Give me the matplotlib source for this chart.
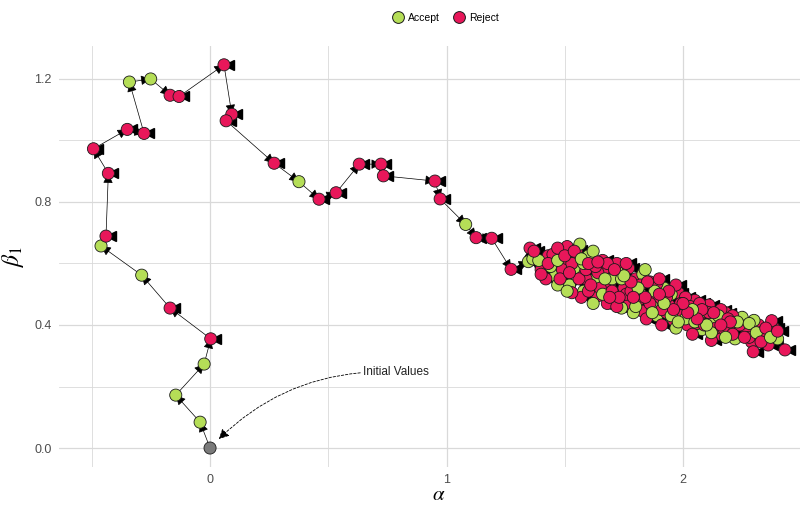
import matplotlib
matplotlib.use("Agg")
import matplotlib.pyplot as plt
from matplotlib.patches import FancyArrowPatch
from matplotlib.lines import Line2D
from matplotlib.transforms import ScaledTranslation
import numpy as np

plt.rcParams['font.family'] = ['Liberation Sans', 'DejaVu Sans']
plt.rcParams['mathtext.fontset'] = 'stix'

# ---- walk from the initial value towards the posterior mode ----
walk_alpha = [0.000, -0.042, -0.145, -0.025, 0.003, -0.169, -0.289, -0.461, -0.440, -0.430,
              -0.493, -0.350, -0.279, -0.341, -0.251, -0.169, -0.131, 0.059, 0.092, 0.068,
              0.271, 0.376, 0.461, 0.533, 0.631, 0.723, 0.733, 0.951, 0.973, 1.081,
              1.125, 1.191, 1.273, 1.346, 1.353]
walk_beta = [0.000, 0.084, 0.172, 0.273, 0.355, 0.455, 0.562, 0.657, 0.689, 0.893,
             0.973, 1.036, 1.023, 1.190, 1.200, 1.147, 1.143, 1.246, 1.085, 1.064,
             0.926, 0.866, 0.809, 0.830, 0.923, 0.923, 0.885, 0.868, 0.810, 0.727,
             0.684, 0.682, 0.581, 0.606, 0.650]
walk_status = ['I', 'A', 'A', 'A', 'R', 'R', 'A', 'A', 'R', 'R',
               'R', 'R', 'R', 'A', 'A', 'R', 'R', 'R', 'R', 'R',
               'R', 'A', 'R', 'R', 'R', 'R', 'R', 'R', 'R', 'A',
               'R', 'R', 'R', 'A', 'R']

# ---- draws in the high density region ----
cluster_alpha = [
    1.365, 1.40, 1.43, 1.46, 1.49, 1.50, 1.52, 1.55, 1.57, 1.58, 1.61, 1.63, 1.64, 1.67, 1.69, 1.70,
    1.73, 1.75, 1.77, 1.80, 1.82, 1.83, 1.86, 1.88, 1.89, 1.92, 1.94, 1.96, 1.98, 2.00, 2.02, 2.05,
    2.07, 2.08, 2.11, 2.13, 2.15, 2.18, 2.20, 2.22, 2.25, 2.27, 2.29, 2.32, 2.34, 2.36, 2.385, 2.40,
    2.431, 2.375,
    2.33, 2.30, 2.28, 2.24, 2.21, 2.19, 2.16, 2.14, 2.12, 2.09, 2.06, 2.04, 2.01, 1.99, 1.97, 1.95,
    1.93, 1.91, 1.89, 1.87, 1.845, 1.83, 1.81, 1.79, 1.77, 1.76, 1.74, 1.72, 1.70, 1.68, 1.66, 1.65,
    1.62, 1.60, 1.59, 1.57, 1.55, 1.54, 1.53, 1.51, 1.49, 1.47, 1.45, 1.44, 1.42, 1.39, 1.37,
    1.40, 1.43, 1.47, 1.48, 1.51, 1.53, 1.564, 1.56, 1.59, 1.60, 1.62, 1.64, 1.66, 1.68, 1.70, 1.72,
    1.74, 1.76, 1.78, 1.80, 1.82, 1.84, 1.86, 1.88, 1.90, 1.91, 1.93, 1.95, 1.97, 1.99, 2.01, 2.03,
    2.05, 2.07, 2.09, 2.11, 2.12, 2.15, 2.17, 2.19, 2.21, 2.23, 2.26, 2.28, 2.297, 2.31, 2.33, 2.35,
    2.37, 2.40,
    2.20, 2.18, 2.16, 2.13, 2.10, 2.08, 2.06, 2.04, 2.02, 2.00, 1.98, 1.96, 1.94, 1.92, 1.90, 1.87,
    1.85, 1.84, 1.81, 1.79, 1.78, 1.75, 1.73, 1.71, 1.69, 1.67, 1.63, 1.61, 1.58, 1.52,
    1.47, 1.50, 1.54, 1.57, 1.60, 1.64]
cluster_beta = [
    0.615, 0.580, 0.625, 0.560, 0.640, 0.600, 0.530, 0.620, 0.570, 0.510, 0.600, 0.550, 0.495, 0.585, 0.530, 0.470,
    0.570, 0.520, 0.465, 0.550, 0.500, 0.445, 0.540, 0.480, 0.430, 0.520, 0.465, 0.415, 0.505, 0.450, 0.400, 0.480,
    0.430, 0.385, 0.465, 0.410, 0.370, 0.440, 0.395, 0.355, 0.425, 0.385, 0.345, 0.400, 0.365, 0.335, 0.390, 0.355,
    0.319, 0.414,
    0.375, 0.415, 0.360, 0.400, 0.430, 0.375, 0.450, 0.390, 0.350, 0.445, 0.405, 0.370, 0.490, 0.430, 0.390, 0.500,
    0.440, 0.400, 0.535, 0.460, 0.420, 0.565, 0.480, 0.440, 0.585, 0.500, 0.455, 0.600, 0.550, 0.470, 0.610, 0.520,
    0.470, 0.625, 0.550, 0.490, 0.645, 0.585, 0.505, 0.655, 0.580, 0.530, 0.630, 0.590, 0.550, 0.610, 0.640,
    0.565, 0.600, 0.610, 0.550, 0.510, 0.600, 0.663, 0.550, 0.580, 0.510, 0.640, 0.570, 0.500, 0.600, 0.510, 0.460,
    0.550, 0.600, 0.510, 0.460, 0.530, 0.580, 0.470, 0.510, 0.550, 0.450, 0.490, 0.430, 0.530, 0.470, 0.420, 0.460,
    0.410, 0.470, 0.400, 0.440, 0.375, 0.430, 0.390, 0.420, 0.370, 0.410, 0.360, 0.405, 0.313, 0.375, 0.345, 0.390,
    0.360, 0.380,
    0.410, 0.360, 0.400, 0.440, 0.400, 0.450, 0.420, 0.450, 0.440, 0.470, 0.410, 0.450, 0.510, 0.470, 0.500, 0.440,
    0.540, 0.490, 0.520, 0.490, 0.540, 0.560, 0.490, 0.580, 0.490, 0.550, 0.590, 0.530, 0.600, 0.570,
    0.650, 0.625, 0.640, 0.615, 0.600, 0.605]
cluster_status = [
    'A', 'R', 'R', 'A', 'R', 'R', 'A', 'R', 'R', 'A', 'R', 'A', 'R', 'R', 'R', 'A',
    'A', 'R', 'R', 'R', 'A', 'R', 'R', 'R', 'A', 'A', 'R', 'R', 'R', 'A', 'R', 'R',
    'R', 'A', 'R', 'A', 'R', 'R', 'R', 'A', 'A', 'R', 'R', 'R', 'A', 'R', 'R', 'A',
    'R', 'R',
    'R', 'A', 'R', 'R', 'R', 'A', 'R', 'R', 'R', 'A', 'R', 'R', 'R', 'R', 'A', 'A',
    'R', 'R', 'R', 'A', 'R', 'A', 'R', 'A', 'R', 'R', 'A', 'R', 'A', 'R', 'R', 'R',
    'A', 'A', 'R', 'R', 'R', 'A', 'R', 'R', 'R', 'A', 'R', 'A', 'R', 'A', 'R',
    'R', 'R', 'A', 'R', 'A', 'R', 'A', 'R', 'R', 'R', 'A', 'R', 'A', 'R', 'R', 'R',
    'A', 'R', 'R', 'A', 'R', 'A', 'R', 'A', 'R', 'R', 'R', 'A', 'R', 'R', 'A', 'R',
    'A', 'R', 'R', 'R', 'A', 'A', 'R', 'R', 'R', 'A', 'R', 'A', 'R', 'A', 'R', 'R',
    'A', 'R',
    'R', 'A', 'R', 'R', 'A', 'R', 'R', 'A', 'R', 'R', 'A', 'R', 'R', 'A', 'R', 'A',
    'R', 'R', 'A', 'R', 'R', 'A', 'R', 'R', 'R', 'A', 'R', 'R', 'A', 'R',
    'R', 'R', 'R', 'A', 'R', 'R']

alpha = np.array(walk_alpha + cluster_alpha)
beta1 = np.array(walk_beta + cluster_beta)
status = walk_status + cluster_status

x_ticks = [0, 1, 2]
x_ticklabels = ['0', '1', '2']
y_ticks = [0.0, 0.4, 0.8, 1.2]
y_ticklabels = ['0.0', '0.4', '0.8', '1.2']
legend_labels = ['Accept', 'Reject']
annot_text = 'Initial Values'
annot_xy = (0.0, 0.0)
annot_text_xy = (0.647, 0.247)

colors = {'A': '#b5de57', 'R': '#e8175a', 'I': '#7a7a7a'}
grid_c = '#d9d9d9'

fig = plt.figure(figsize=(8.0, 5.05), dpi=100)
ax = fig.add_axes([0.0736, 0.0749, 0.9508, 0.8347])

xmin, xmax = alpha.min(), alpha.max()
ymin, ymax = beta1.min(), beta1.max()
ax.set_xlim(xmin - 0.05 * (xmax - xmin), xmax + 0.05 * (xmax - xmin))
ax.set_ylim(ymin - 0.05 * (ymax - ymin), ymax + 0.05 * (ymax - ymin))

for s in ax.spines.values():
    s.set_visible(False)
ax.set_xticks(x_ticks)
ax.set_xticklabels(x_ticklabels)
ax.set_yticks(y_ticks)
ax.set_yticklabels(y_ticklabels)
ax.set_xticks([-0.5, 0.5, 1.5, 2.5], minor=True)
ax.set_yticks([0.2, 0.6, 1.0], minor=True)
ax.tick_params(which='both', length=0, labelsize=9, labelcolor='#4d4d4d', pad=5)
ax.grid(which='major', color=grid_c, lw=0.9)
ax.grid(which='minor', color=grid_c, lw=0.6)
ax.set_axisbelow(True)

# path with arrows
for i in range(1, len(alpha)):
    arr = FancyArrowPatch((alpha[i - 1], beta1[i - 1]), (alpha[i], beta1[i]),
                          arrowstyle='-|>,head_length=0.6,head_width=0.3',
                          mutation_scale=10, shrinkA=0, shrinkB=0,
                          color='black', lw=0.5, zorder=2)
    ax.add_patch(arr)

# stay arrowheads at rejected proposals
rej = np.array([s == 'R' for s in status])
off = ScaledTranslation(5 / 100, 0, fig.dpi_scale_trans)
ax.plot(alpha[rej], beta1[rej], ls='none', marker='<', ms=7.5, color='black',
        transform=ax.transData + off, zorder=2.5)

# points
ax.scatter(alpha, beta1, s=76, c=[colors[s] for s in status], edgecolors='#1a1a1a',
           linewidths=0.6, zorder=3)

# annotation
ax.annotate(annot_text, xy=annot_xy, xytext=annot_text_xy, ha='left', va='center',
            fontsize=8.5, color='#222222',
            arrowprops=dict(arrowstyle='-|>,head_length=0.6,head_width=0.3', linestyle=(0, (3, 2)),
                            connectionstyle='arc3,rad=0.23', color='black', lw=0.6,
                            shrinkA=0, shrinkB=9, mutation_scale=10), zorder=4)

ax.set_xlabel(r'$\alpha$', fontsize=15, va='center')
ax.xaxis.set_label_coords(0.5, -27 / 421.5)
ax.set_ylabel(r'$\beta_1$', fontsize=17, labelpad=6)

handles = [Line2D([], [], ls='none', marker='o', ms=8.5, mfc=colors['A'], mec='#1a1a1a', mew=0.7),
           Line2D([], [], ls='none', marker='o', ms=8.5, mfc=colors['R'], mec='#1a1a1a', mew=0.7)]
fig.legend(handles, legend_labels, loc='center', bbox_to_anchor=(445 / 800, 1 - 18 / 505),
           ncol=2, frameon=False, fontsize=7.5, handletextpad=0.4, columnspacing=1.2,
           handlelength=1.2)

fig.savefig('out.png', dpi=100)
